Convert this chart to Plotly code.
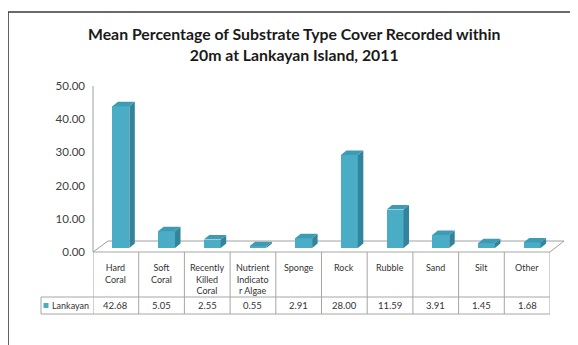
import plotly.graph_objects as go

# ---------------- data ----------------
categories = ["Hard Coral", "Soft Coral", "Recently Killed Coral", "Nutrient Indicator Algae",
              "Sponge", "Rock", "Rubble", "Sand", "Silt", "Other"]
header_labels = ["Hard<br>Coral", "Soft<br>Coral", "Recently<br>Killed<br>Coral",
                 "Nutrient<br>Indicato<br>r Algae", "Sponge", "Rock", "Rubble", "Sand", "Silt", "Other"]
values = [42.68, 5.05, 2.55, 0.55, 2.91, 28.00, 11.59, 3.91, 1.45, 1.68]
series_name = "Lankayan"
y_ticks = [0, 10, 20, 30, 40, 50]
title_text = "Mean Percentage of Substrate Type Cover Recorded within<br>20m at Lankayan Island, 2011"

# ---------------- geometry / style ----------------
PAGE_OFF = 8                      # default body margin of the page
W, H = 578 - PAGE_OFF, 345 - PAGE_OFF
# plot area in reference-screen pixels
L, R, T, B = 93, 550, 82, 248
YMAX = 50
n = len(categories)
unit_y = (B - T) / YMAX

def xp(px):
    return (px - L) / (R - L)

def yp(py):
    return (B - py) / (B - T)

FRONT = "#4bacc6"
SIDE = "#31849b"
TOP = "#3d9bb3"
GRID = "#a6a6a6"
TXT = "#333333"
FONT = "Lato, 'Open Sans', sans-serif"

BAR_W = 0.37
BAR_OFF = -0.075
DX = 0.12
DY = 4.5 / unit_y

xs = list(range(n))

fig = go.Figure()

# front faces
fig.add_trace(go.Bar(x=xs, y=values, width=BAR_W, offset=BAR_OFF,
                     marker=dict(color=FRONT, line=dict(width=0)),
                     name=series_name, showlegend=False, hoverinfo="y"))

# side and top faces (3D effect) built from the values
side_x, side_y, top_x, top_y = [], [], [], []
for i, v in zip(xs, values):
    xl = i + BAR_OFF
    xr = xl + BAR_W
    side_x += [xr, xr + DX, xr + DX, xr, xr, None]
    side_y += [0, DY, v + DY, v, 0, None]
    top_x += [xl, xl + DX, xr + DX, xr, xl, None]
    top_y += [v, v + DY, v + DY, v, v, None]

fig.add_trace(go.Scatter(x=side_x, y=side_y, mode="lines", fill="toself",
                         fillcolor=SIDE, line=dict(width=0, color=SIDE),
                         showlegend=False, hoverinfo="skip"))
fig.add_trace(go.Scatter(x=top_x, y=top_y, mode="lines", fill="toself",
                         fillcolor=TOP, line=dict(width=0, color=TOP),
                         showlegend=False, hoverinfo="skip"))

shapes = []
# chart frame
shapes.append(dict(type="rect", xref="paper", yref="paper",
                   x0=xp(8), x1=xp(640), y0=yp(12), y1=yp(400),
                   line=dict(color="#3a3a3a", width=1.6), layer="below"))
# floor (3D)
floor_line = dict(color="#a0a0a0", width=1)
shapes.append(dict(type="line", xref="paper", yref="paper",
                   x0=xp(93), y0=yp(252), x1=xp(108), y1=yp(241), line=floor_line, layer="below"))
shapes.append(dict(type="line", xref="paper", yref="paper",
                   x0=xp(108), y0=yp(241), x1=xp(564), y1=yp(241), line=floor_line, layer="below"))
shapes.append(dict(type="line", xref="paper", yref="paper",
                   x0=xp(550), y0=yp(252), x1=xp(564), y1=yp(241), line=floor_line, layer="below"))
# vertical axis line
shapes.append(dict(type="line", xref="paper", yref="paper",
                   x0=xp(93), y0=yp(252), x1=xp(93), y1=yp(86), line=floor_line, layer="below"))

# data table grid
tline = dict(color=GRID, width=1)
TT, TM, TB = 252, 297, 314
shapes.append(dict(type="line", xref="paper", yref="paper",
                   x0=xp(93), x1=xp(550), y0=yp(TT), y1=yp(TT), line=tline))
shapes.append(dict(type="line", xref="paper", yref="paper",
                   x0=xp(41), x1=xp(550), y0=yp(TM), y1=yp(TM), line=tline))
shapes.append(dict(type="line", xref="paper", yref="paper",
                   x0=xp(41), x1=xp(550), y0=yp(TB), y1=yp(TB), line=tline))
shapes.append(dict(type="line", xref="paper", yref="paper",
                   x0=xp(41), x1=xp(41), y0=yp(TM), y1=yp(TB), line=tline))
for i in range(n + 1):
    shapes.append(dict(type="line", xref="x", yref="paper",
                       x0=i - 0.5, x1=i - 0.5, y0=yp(TT), y1=yp(TB), line=tline))
# legend key
shapes.append(dict(type="rect", xref="paper", yref="paper",
                   x0=xp(43.5), x1=xp(48.5), y0=yp(303), y1=yp(308),
                   fillcolor=FRONT, line=dict(width=0)))

annotations = []
annotations.append(dict(text="<b>" + title_text + "</b>", xref="paper", yref="paper",
                        x=xp(294), y=yp(43.5), xanchor="center", yanchor="middle",
                        showarrow=False, font=dict(family=FONT, size=15.8, color="#1a1a1a")))
for i, lab in enumerate(header_labels):
    annotations.append(dict(text=lab, xref="x", yref="paper", x=i, y=yp(260),
                            xanchor="center", yanchor="top", showarrow=False,
                            font=dict(family=FONT, size=9, color=TXT)))
for i, v in enumerate(values):
    annotations.append(dict(text=f"{v:.2f}", xref="x", yref="paper", x=i, y=yp(305.5),
                            xanchor="center", yanchor="middle", showarrow=False,
                            font=dict(family=FONT, size=9.5, color=TXT)))
annotations.append(dict(text=series_name, xref="paper", yref="paper", x=xp(49.5), y=yp(305.5),
                        xanchor="left", yanchor="middle", showarrow=False,
                        font=dict(family=FONT, size=9, color=TXT)))

fig.update_layout(
    width=W, height=H,
    margin=dict(l=L - PAGE_OFF, r=578 - R, t=T - PAGE_OFF, b=345 - B, pad=0),
    paper_bgcolor="white", plot_bgcolor="rgba(0,0,0,0)",
    showlegend=False,
    bargap=0,
    xaxis=dict(range=[-0.5, n - 0.5], showticklabels=False, showgrid=False,
               zeroline=False, showline=False, ticks="", fixedrange=True),
    yaxis=dict(range=[0, YMAX], tickvals=y_ticks, ticktext=[f"{t:.2f}" for t in y_ticks],
               showgrid=False, zeroline=False, showline=False, ticks="",
               ticklabelshift=4, ticklabelstandoff=7,
               tickfont=dict(family=FONT, size=11.5, color="#404040"), fixedrange=True),
    shapes=shapes,
    annotations=annotations,
)

fig.write_html("out.html")
